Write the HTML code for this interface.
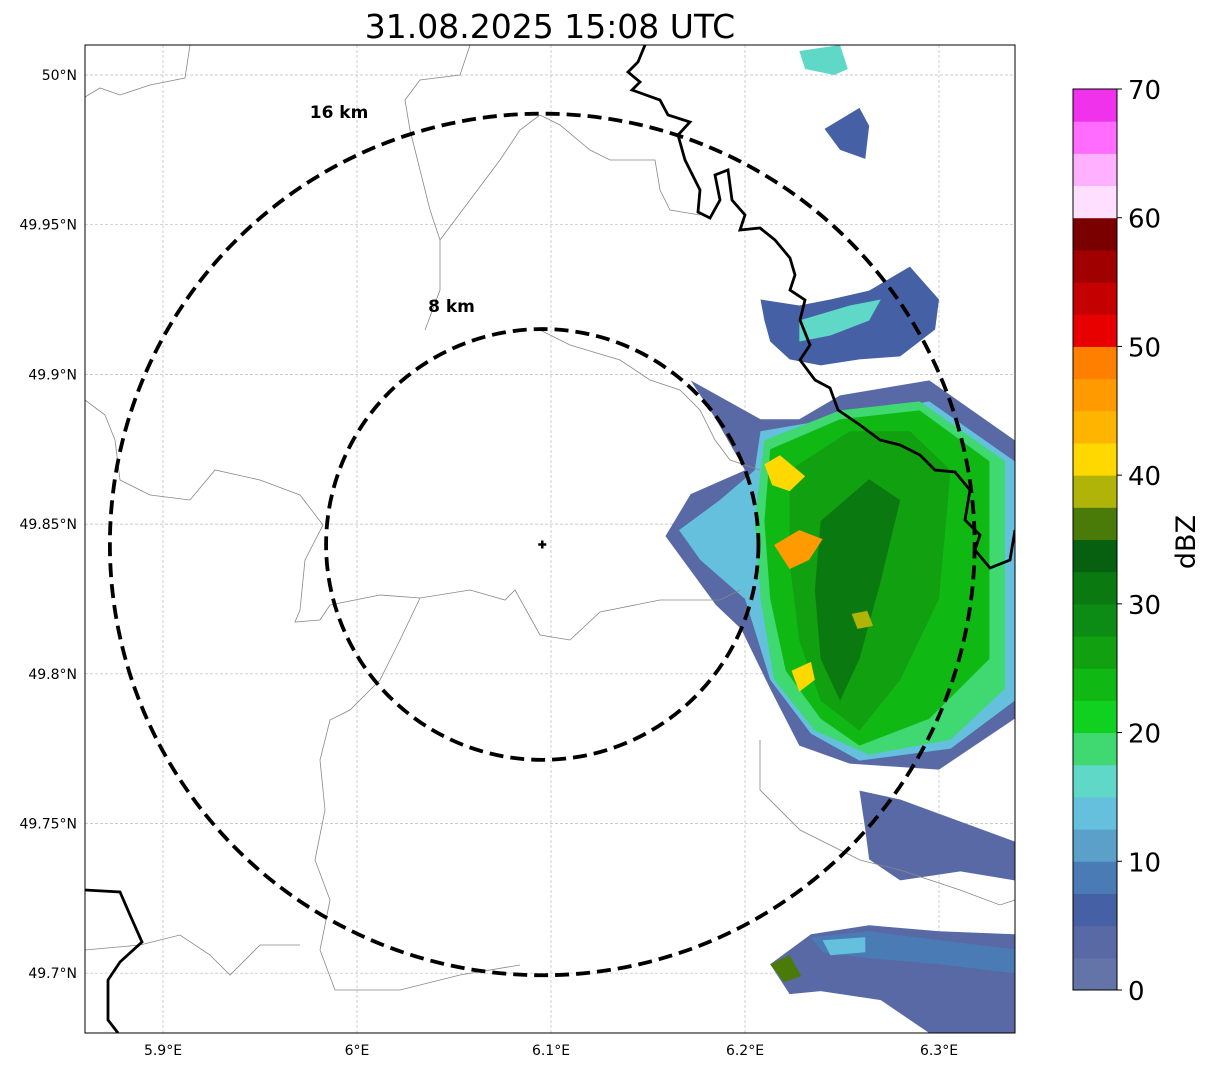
<!DOCTYPE html>
<html><head><meta charset="utf-8"><style>
body{margin:0;background:#fff;width:1207px;height:1069px;overflow:hidden;font-family:"DejaVu Sans","Liberation Sans",sans-serif}
svg{position:absolute;left:0;top:0;font-family:"DejaVu Sans","Liberation Sans",sans-serif}
</style></head><body>
<svg id="chart" width="1207" height="1069" viewBox="0 0 1207 1069">
<text x="550" y="38" font-size="33" text-anchor="middle">31.08.2025 15:08 UTC</text>
<defs><clipPath id="mapclip"><rect x="85" y="45" width="930" height="988"/></clipPath></defs>
<g id="map" clip-path="url(#mapclip)">
<g id="grid"></g>
<g id="echoes"></g>
<g fill="none" stroke="#888" stroke-width="0.8">
<path d="M190,45 L185,78 L150,85 L120,95 L100,88 L85,97"/>
<path d="M85,400 L105,415 L115,440 L120,480 L150,495 L190,500 L215,470 L260,480 L300,495 L323,525 L305,560 L300,610 L295,622 L320,620"/>
<path d="M320,620 L330,605 L380,595 L420,598 L470,590 L505,600 L515,590 L540,635 L570,640 L600,612 L660,600 L720,600 L740,590"/>
<path d="M420,598 L400,640 L380,680 L350,710 L330,720 L320,760 L325,810 L315,860 L330,900 L320,950 L335,990 L400,990 L460,975 L520,965"/>
<path d="M540,115 L520,130 L500,160 L470,200 L440,240 L440,290 L425,330"/>
<path d="M540,115 L560,125 L590,150 L610,160 L655,160 L660,190 L670,210 L700,215"/>
<path d="M440,240 L430,210 L420,170 L410,130 L405,100 L420,80 L460,75 L470,45"/>
<path d="M540,330 L570,345 L620,360 L650,380 L680,390 L700,410 L715,440 L730,460 L760,470"/>
<path d="M85,950 L140,945 L180,935 L210,955 L230,975 L260,945 L300,945"/>
<path d="M760,740 L760,790 L800,830 L860,860 L900,870 L960,890 L1000,905 L1015,900"/>
</g>
<g id="borders" fill="none" stroke="#000" stroke-width="2.8">
<path d="M645,45 L638,62 L628,72 L640,82 L632,90 L660,100 L668,115 L690,122 L678,135 L685,160 L700,190 L698,212 L710,218 L720,200 L715,175 L728,170 L732,200 L745,215 L740,230 L760,228 L775,240 L790,258 L795,275 L790,290 L805,300 L800,320 L810,345 L800,360 L815,380 L830,388 L838,410 L860,425 L880,440 L900,445 L920,455 L935,470 L955,472 L970,490 L965,520 L980,535 L975,550 L990,568 L1010,560 L1015,530"/>
<path d="M85,890 L120,892 L130,915 L142,942 L120,962 L108,980 L108,1020 L118,1033"/>
</g>
<g id="rings"></g>
</g>
<rect x="85" y="45" width="930" height="988" fill="none" stroke="#000" stroke-width="1"/>
<g id="axes"></g>
<g id="cbar"></g>
<text x="1195" y="542" font-size="27" text-anchor="middle" transform="rotate(-90 1195 542)">dBZ</text>
</svg>
<script>
const NS='http://www.w3.org/2000/svg';
const lonTicks=[5.9,6.0,6.1,6.2,6.3];
const lonLabels=['5.9°E','6°E','6.1°E','6.2°E','6.3°E'];
const latTicks=[50.0,49.95,49.9,49.85,49.8,49.75,49.7];
const latLabels=['50°N','49.95°N','49.9°N','49.85°N','49.8°N','49.75°N','49.7°N'];
const radarLon=6.0955, radarLat=49.8432;
const ringKm=[8,16];
const ringLabels=['8 km','16 km'];
const cbarTicks=[0,10,20,30,40,50,60,70];
const cbarColors=['#6474a8','#5869a5','#4660a6','#4b7bb4','#5aa0c8','#64c0dc','#60d8c8','#40d870','#10d020','#10b814','#10a010','#0c8c14','#0a7a10','#066010','#4a7a08','#b0b408','#ffd800','#ffb400','#ff9a00','#ff7f00','#e80000','#c40000','#a00000','#7a0000','#ffdfff','#ffb0ff','#ff6cff','#f032ec'];
// echo polygons: level (dBZ) and vertices [lon,lat]
const echoLevels=[4,14,18,23,27,30,5,15,16,6,4,3,8,13,36,42,45,41,38];
const echoPolys=[
[[6.172,49.898],[6.208,49.885],[6.228,49.885],[6.249,49.893],[6.295,49.898],[6.339,49.878],[6.339,49.785],[6.300,49.768],[6.254,49.770],[6.228,49.776],[6.213,49.795],[6.198,49.815],[6.185,49.823],[6.159,49.846],[6.172,49.860],[6.200,49.868],[6.185,49.885]],
[[6.208,49.881],[6.244,49.885],[6.295,49.891],[6.339,49.871],[6.339,49.791],[6.306,49.775],[6.259,49.771],[6.234,49.780],[6.213,49.798],[6.200,49.825],[6.177,49.838],[6.166,49.848],[6.187,49.858],[6.205,49.868]],
[[6.210,49.878],[6.249,49.888],[6.290,49.891],[6.334,49.871],[6.334,49.795],[6.306,49.778],[6.264,49.773],[6.236,49.781],[6.215,49.798],[6.208,49.825],[6.205,49.851]],
[[6.213,49.875],[6.249,49.885],[6.290,49.888],[6.326,49.871],[6.326,49.805],[6.295,49.785],[6.259,49.776],[6.239,49.785],[6.221,49.801],[6.213,49.825],[6.210,49.851]],
[[6.223,49.868],[6.254,49.881],[6.285,49.881],[6.306,49.868],[6.300,49.825],[6.280,49.798],[6.259,49.781],[6.239,49.791],[6.228,49.811],[6.223,49.837]],
[[6.239,49.851],[6.264,49.865],[6.280,49.858],[6.270,49.831],[6.259,49.805],[6.249,49.791],[6.239,49.805],[6.236,49.828]],
[[6.208,49.925],[6.228,49.923],[6.244,49.925],[6.264,49.928],[6.285,49.936],[6.300,49.925],[6.298,49.915],[6.280,49.906],[6.259,49.905],[6.239,49.903],[6.223,49.905],[6.213,49.911],[6.210,49.918]],
[[6.228,49.918],[6.254,49.923],[6.270,49.925],[6.264,49.918],[6.244,49.913],[6.228,49.911]],
[[6.228,50.008],[6.249,50.010],[6.253,50.002],[6.246,50.000],[6.231,50.002]],
[[6.241,49.982],[6.259,49.989],[6.264,49.983],[6.262,49.972],[6.249,49.975]],
[[6.259,49.761],[6.280,49.758],[6.339,49.744],[6.339,49.731],[6.311,49.734],[6.280,49.731],[6.264,49.738],[6.262,49.748]],
[[6.213,49.703],[6.234,49.713],[6.264,49.716],[6.300,49.714],[6.339,49.713],[6.339,49.680],[6.295,49.680],[6.270,49.691],[6.239,49.694],[6.223,49.693]],
[[6.234,49.712],[6.264,49.714],[6.300,49.711],[6.339,49.708],[6.339,49.700],[6.300,49.703],[6.264,49.705],[6.240,49.707]],
[[6.240,49.711],[6.262,49.712],[6.262,49.707],[6.244,49.706]],
[[6.213,49.703],[6.223,49.706],[6.229,49.699],[6.220,49.697]],
[[6.210,49.870],[6.218,49.873],[6.231,49.866],[6.223,49.861],[6.214,49.863]],
[[6.215,49.843],[6.228,49.848],[6.240,49.845],[6.233,49.838],[6.223,49.835]],
[[6.224,49.801],[6.234,49.804],[6.236,49.798],[6.228,49.794]],
[[6.255,49.820],[6.263,49.821],[6.266,49.816],[6.258,49.815]]
];
const X=lon=>163+(lon-5.9)*1940;
const Y=lat=>75+(50-lat)*2994;
function colorFor(v){return cbarColors[Math.max(0,Math.min(27,Math.floor(v/2.5)))];}
function mk(tag,attrs,parent){const e=document.createElementNS(NS,tag);for(const k in attrs)e.setAttribute(k,attrs[k]);parent.appendChild(e);return e;}
const grid=document.getElementById('grid'),axes=document.getElementById('axes');
lonTicks.forEach((t,i)=>{const x=X(t);
 const l=mk('line',{x1:x,y1:45,x2:x,y2:1033,stroke:'#bbb','stroke-width':0.7,'stroke-dasharray':'3,2'},grid);
 
 
 const tx=mk('text',{x:x,y:1055,'font-size':14,'text-anchor':'middle'},axes);tx.textContent=lonLabels[i];
 
 });
latTicks.forEach((t,i)=>{const y=Y(t);
 const l=mk('line',{x1:85,y1:y,x2:1015,y2:y,stroke:'#bbb','stroke-width':0.7,'stroke-dasharray':'3,2'},grid);
 
 
 const tx=mk('text',{x:77,y:y+5,'font-size':14,'text-anchor':'end'},axes);tx.textContent=latLabels[i];
 
 });
const echoes=document.getElementById('echoes');
echoPolys.forEach((p,i)=>{const pg=mk('polygon',{points:p.map(q=>X(q[0])+','+Y(q[1])).join(' '),fill:colorFor(echoLevels[i])},echoes);
 
 });
const rings=document.getElementById('rings');
const cx=X(radarLon),cy=Y(radarLat);
const pxPerKmX=1940/(111.32*Math.cos(radarLat*Math.PI/180)), pxPerKmY=2994/111.2;
const labelFx=[-0.42,-0.47], labelFy=[-1.08,-0.99];
ringKm.forEach((k,i)=>{const c=mk('ellipse',{cx:cx,cy:cy,rx:k*pxPerKmX,ry:k*pxPerKmY,fill:'none',stroke:'#000','stroke-width':3.8,'stroke-dasharray':'14,7'},rings);
 
 
 const t=mk('text',{x:cx+k*pxPerKmX*labelFx[i],y:cy+k*pxPerKmY*labelFy[i],'font-size':17,'font-weight':'bold','text-anchor':'middle'},rings);t.textContent=ringLabels[i];
 
 });
const cross=mk('path',{d:`M${cx-4},${cy} H${cx+4} M${cx},${cy-4} V${cy+4}`,stroke:'#000','stroke-width':2.5},rings);


const cb=document.getElementById('cbar');const cbTop=89,cbBot=990,cbX=1073,cbW=44;
const V=v=>cbBot-(v/70)*(cbBot-cbTop);
cbarColors.forEach((c,i)=>{const r=mk('rect',{x:cbX,y:V((i+1)*2.5),width:cbW,height:V(i*2.5)-V((i+1)*2.5)+0.5,fill:c},cb);
 
 });
mk('rect',{x:cbX,y:cbTop,width:cbW,height:cbBot-cbTop,fill:'none',stroke:'#000','stroke-width':1},cb);
cbarTicks.forEach(t=>{const y=V(t);mk('line',{x1:cbX+cbW,y1:y,x2:cbX+cbW+5,y2:y,stroke:'#000'},cb);
 const tx=mk('text',{x:1128,y:y+10,'font-size':26},cb);tx.textContent=t;
 
 });
</script>
</body></html>
